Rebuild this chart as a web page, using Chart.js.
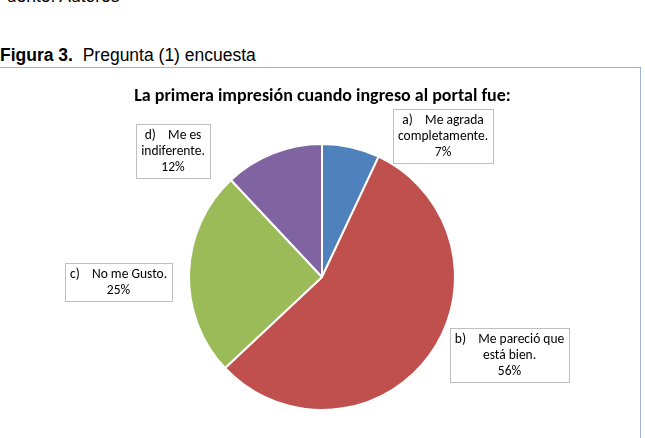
<!DOCTYPE html>
<html>
<head>
<meta charset="utf-8">
<script src="https://cdn.jsdelivr.net/npm/chart.js@4.4.0/dist/chart.umd.min.js"></script>
<style>
  html, body { margin: 0; padding: 0; background: #fff; }
  body { width: 645px; height: 438px; position: relative; overflow: hidden; }
  .source { position: absolute; left: -4px; top: -14px; font: 17.5px "Liberation Sans", Arial, sans-serif; color: #000; white-space: pre; }
  .caption { position: absolute; left: 0; top: 45px; font: 17.5px "Liberation Sans", Arial, sans-serif; color: #000; white-space: pre; }
  .frame { position: absolute; left: -2px; top: 67px; width: 642px; height: 400px; border-top: 1px solid #9fb4d4; border-right: 1px solid #9fb4d4; }
  .chart-title { position: absolute; left: 0; top: 86px; width: 645px; text-align: center; font: bold 18px/18px Carlito, Lato, "Open Sans", sans-serif; color: #000; white-space: pre; z-index: 2; }
  #chart { position: absolute; left: 0; top: 0; }
</style>
</head>
<body>
<div class="source">Fuente: Autores</div>
<div class="caption"><b>Figura 3.</b>  Pregunta (1) encuesta</div>
<div class="frame"></div>
<div class="chart-title" id="chartTitle"></div>
<canvas id="chart" width="645" height="438"></canvas>
<script>
// Chart data
const chartTitle = 'La primera impresión cuando ingreso al portal fue:';
const categories = ['Me agrada completamente.', 'Me pareció que está bien.', 'No me Gusto.', 'Me es indiferente.'];
const percentages = [7, 56, 25, 12];
const sliceColors = ['#4f81bd', '#c0504d', '#9bbb59', '#8064a2'];

// Label text lines, as wrapped in the original
const labelLines = [
    ['a)    Me agrada', 'completamente.', '7%'],
    ['b)    Me pareció que', 'está bien.', '56%'],
    ['c)    No me Gusto.', '25%'],
    ['d)    Me es', 'indiferente.', '12%']
];
// Label box centres, relative to pie centre, in units of radius
const labelOffsets = [[0.91, -1.06], [1.41, 0.59], [-1.53, 0.04], [-1.12, -0.95]];

const labelFont = '13.5px Carlito, Lato, "Open Sans", sans-serif';

document.getElementById('chartTitle').textContent = chartTitle;

// Draw the boxed data labels
const boxLabels = {
    id: 'boxLabels',
    afterDatasetsDraw(chart) {
        const ctx = chart.ctx;
        const arcs = chart.getDatasetMeta(0).data;
        const lineH = 16;
        ctx.save();
        ctx.font = labelFont;
        ctx.textAlign = 'center';
        ctx.textBaseline = 'middle';
        arcs.forEach((arc, i) => {
            const lines = labelLines[i];
            const r = arc.outerRadius;
            const cx = arc.x + labelOffsets[i][0] * r;
            const cy = arc.y + labelOffsets[i][1] * r;
            const w = Math.round(Math.max(...lines.map(l => ctx.measureText(l).width)) + 10);
            const h = lines.length * lineH + 6;
            const x0 = Math.round(cx - w / 2) + 0.5;
            const y0 = Math.round(cy - h / 2) + 0.5;
            ctx.fillStyle = '#fff';
            ctx.fillRect(x0, y0, w, h);
            ctx.strokeStyle = '#bfbfbf';
            ctx.lineWidth = 1;
            ctx.strokeRect(x0, y0, w, h);
            ctx.fillStyle = '#000';
            lines.forEach((l, k) => {
                ctx.fillText(l, cx, y0 + 3 + lineH * k + lineH / 2);
            });
        });
        ctx.restore();
    }
};

const ctx = document.getElementById('chart').getContext('2d');
new Chart(ctx, {
    type: 'pie',
    data: {
        labels: categories,
        datasets: [{
            data: percentages,
            backgroundColor: sliceColors,
            borderColor: '#ffffff',
            borderWidth: 2
        }]
    },
    options: {
        responsive: false,
        animation: false,
        events: [],
        layout: { padding: { left: 188, right: 189, top: 143, bottom: 27 } },
        plugins: {
            legend: { display: false },
            tooltip: { enabled: false },
            title: { display: false }
        }
    },
    plugins: [boxLabels]
});
</script>
</body>
</html>
